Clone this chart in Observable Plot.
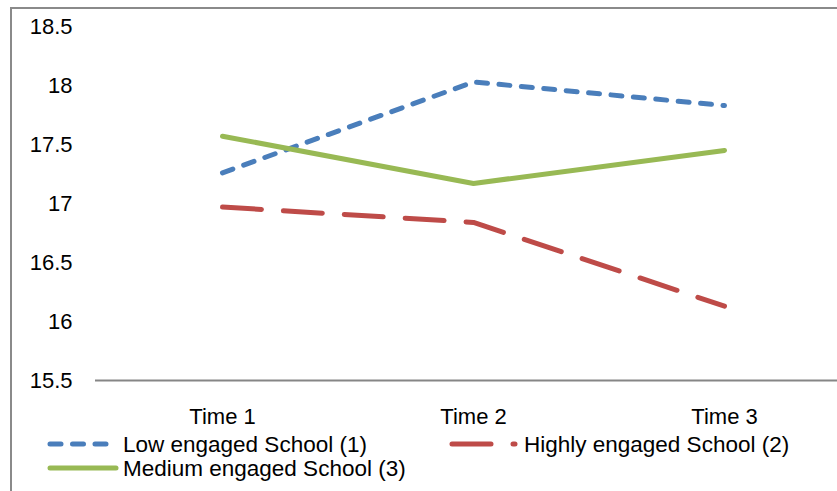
<!DOCTYPE html>
<html>
<head>
<meta charset="utf-8">
<script src="https://cdn.jsdelivr.net/npm/d3@7"></script>
<script src="https://cdn.jsdelivr.net/npm/@observablehq/plot@0.6"></script>
<style>
  html, body { margin: 0; padding: 0; background: #fff; }
  #wrap { position: relative; width: 837px; height: 491px; overflow: hidden; font-family: "Liberation Sans", Arial, sans-serif; }
  #frame { position: absolute; left: 10px; top: 7px; width: 900px; height: 600px;
           border-top: 2px solid #8a8a8a; border-left: 2px solid #8a8a8a; }
  #chart { position: absolute; left: 0; top: 0; }
  #legend { position: absolute; left: 0; top: 430px; }
</style>
</head>
<body>
<div id="wrap">
  <div id="frame"></div>
  <div id="chart"></div>
  <div id="legend"></div>
</div>
<script>
// Measurement occasions
const times = ["Time 1", "Time 2", "Time 3"];

// Mean scores per school engagement group
const lowEngaged = [17.26, 18.03, 17.83];
const highlyEngaged = [16.97, 16.84, 16.13];
const mediumEngaged = [17.57, 17.17, 17.45];

const seriesNames = ["Low engaged School (1)", "Highly engaged School (2)", "Medium engaged School (3)"];
const yTicks = [15.5, 16, 16.5, 17, 17.5, 18, 18.5];

const font = "'Liberation Sans', Arial, sans-serif";

// Line styling per series
const styles = {
  "Low engaged School (1)": {stroke: "#4a7ebb", dash: "11,11.5"},
  "Highly engaged School (2)": {stroke: "#be4b48", dash: "39,22"},
  "Medium engaged School (3)": {stroke: "#98b954", dash: null}
};

// Tidy table built from the arrays above
const valuesBySeries = [lowEngaged, highlyEngaged, mediumEngaged];
const rows = seriesNames.flatMap((name, i) =>
  times.map((t, j) => ({series: name, time: t, value: valuesBySeries[i][j]}))
);

const lineMarks = seriesNames.map(name => Plot.line(rows.filter(d => d.series === name), {
  x: "time",
  y: "value",
  stroke: styles[name].stroke,
  strokeWidth: 5,
  strokeLinecap: "round",
  strokeLinejoin: "round",
  strokeDasharray: styles[name].dash ?? undefined
}));

const chart = Plot.plot({
  width: 837,
  height: 430,
  marginLeft: 95,
  marginRight: 0,
  marginTop: 26,
  marginBottom: 50,
  style: {fontFamily: font, fontSize: "22px", color: "#000", background: "transparent", overflow: "visible"},
  x: {type: "point", domain: times, range: [95, 850], padding: 0.5, label: null},
  y: {domain: [15.5, 18.5], label: null},
  marks: [
    Plot.axisY({ticks: yTicks, tickSize: 0, tickPadding: 23, tickFormat: d => String(d), fontSize: 22, label: null}),
    Plot.axisX({tickSize: 0, tickPadding: 28, fontSize: 22, label: null}),
    Plot.ruleY([15.5], {stroke: "#868686", strokeWidth: 2}),
    ...lineMarks
  ]
});
document.getElementById("chart").appendChild(chart);

// Legend: two rows beneath the plot
const legendItems = [
  {name: seriesNames[0], x: 50, y: 14, len: 66, tx: 73},
  {name: seriesNames[1], x: 452, y: 14, len: 63, tx: 72},
  {name: seriesNames[2], x: 50, y: 38, len: 66, tx: 73}
];
const leg = d3.select("#legend").append("svg")
  .attr("width", 837).attr("height", 61)
  .style("font-family", font).style("font-size", "22.5px");
const item = leg.selectAll("g").data(legendItems).join("g")
  .attr("transform", d => `translate(${d.x},${d.y})`);
item.append("line")
  .attr("x1", 0).attr("x2", d => d.len)
  .attr("y1", 0).attr("y2", 0)
  .attr("stroke", d => styles[d.name].stroke)
  .attr("stroke-width", 5)
  .attr("stroke-linecap", "round")
  .attr("stroke-dasharray", d => styles[d.name].dash);
item.append("text")
  .attr("x", d => d.tx)
  .attr("y", 8)
  .attr("fill", "#000")
  .text(d => d.name);
</script>
</body>
</html>
